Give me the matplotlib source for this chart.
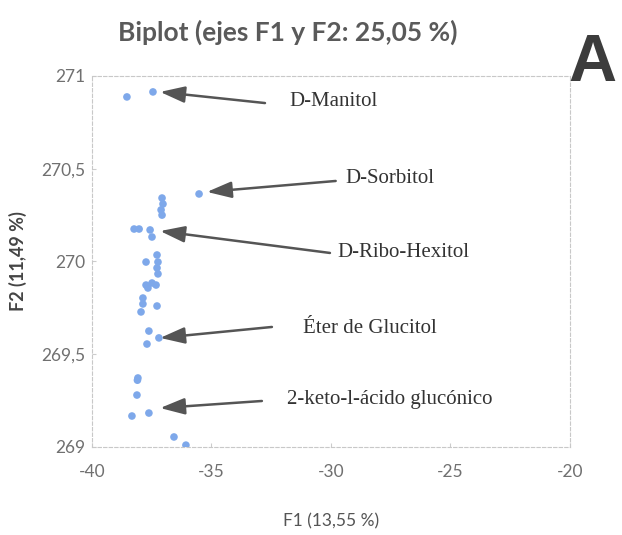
import matplotlib.pyplot as plt
from matplotlib.ticker import FuncFormatter

plt.rcParams['axes.unicode_minus'] = False

# puntos (F1, F2)
f1 = [-38.54, -37.45, -35.52, -37.07, -37.03, -37.11, -37.07, -38.24, -38.03,
      -37.57, -37.49, -37.74, -37.28, -37.24, -37.28, -37.24, -37.74, -37.49,
      -37.32, -37.66, -37.87, -37.87, -37.95, -37.28, -37.62, -37.20, -37.70,
      -38.08, -38.10, -38.12, -38.33, -37.62, -36.57, -36.07]
f2 = [270.887, 270.914, 270.364, 270.342, 270.31, 270.278, 270.25, 270.175,
      270.175, 270.17, 270.132, 269.997, 270.035, 269.997, 269.965, 269.933,
      269.873, 269.884, 269.873, 269.857, 269.803, 269.771, 269.728, 269.76,
      269.625, 269.588, 269.555, 269.372, 269.36, 269.28, 269.167, 269.183,
      269.054, 269.01]

# etiquetas: texto, punta de flecha, inicio de flecha, posición del texto
labels = ["D-Manitol", "D-Sorbitol", "D-Ribo-Hexitol", "Éter de Glucitol",
          "2-keto-l-ácido glucónico"]
arrow_head = [(-37.15, 270.914), (-35.19, 270.375), (-37.15, 270.164),
              (-37.15, 269.588), (-37.15, 269.21)]
arrow_tail = [(-32.76, 270.854), (-29.8, 270.434), (-30.04, 270.046),
              (-32.47, 269.647), (-32.89, 269.248)]
text_pos = [(-31.72, 270.86), (-29.4, 270.45), (-29.71, 270.046),
            (-31.17, 269.64), (-31.84, 269.255)]

fig = plt.figure(figsize=(6.22, 5.35), dpi=100)
ax = fig.add_axes([0.148, 0.1645, 0.768, 0.6935])

ax.scatter(f1, f2, s=30, color='#7ea8ea', edgecolors='none', zorder=3)

for lab, head, tail, pos in zip(labels, arrow_head, arrow_tail, text_pos):
    ax.annotate('', xy=head, xytext=tail,
                arrowprops=dict(arrowstyle='-|>,head_length=1.5,head_width=0.5',
                                color='#555555', lw=1.8, shrinkA=0, shrinkB=0))
    ax.text(pos[0], pos[1], lab, fontsize=15, family='Liberation Serif',
            color='#333333', va='center', ha='left')

ax.set_xlim(-40, -20)
ax.set_ylim(269, 271)
ax.set_xticks([-40, -35, -30, -25, -20])
ax.set_yticks([269, 269.5, 270, 270.5, 271])
ax.yaxis.set_major_formatter(FuncFormatter(lambda v, p: ('%g' % v).replace('.', ',')))

for sp in ax.spines.values():
    sp.set_linestyle((0, (3, 2)))
    sp.set_color('#c8c8c8')
    sp.set_linewidth(0.8)
ax.tick_params(length=3, color='#cccccc', labelcolor='#707070', labelsize=12.5,
               direction='in')
ax.tick_params(axis='x', pad=12)
ax.tick_params(axis='y', pad=5)
for t in ax.get_xticklabels() + ax.get_yticklabels():
    t.set_family('Lato')

ax.set_xlabel('F1 (13,55 %)', fontsize=12.5, color='#555555', family='Lato', labelpad=24)
ax.set_ylabel('F2 (11,49 %)', fontsize=13, color='#444444', family='Lato',
              fontweight='bold', labelpad=10)

fig.text(0.462, 0.94, 'Biplot (ejes F1 y F2: 25,05 %)', fontsize=19, family='Lato',
         fontweight='bold', color='#5a5a5a', ha='center', va='center')
fig.text(0.953, 0.88, 'A', fontsize=48, family='Liberation Sans', fontweight='bold',
         color='#3c3c3c', ha='center', va='center')

fig.savefig('out.png', dpi=100)
